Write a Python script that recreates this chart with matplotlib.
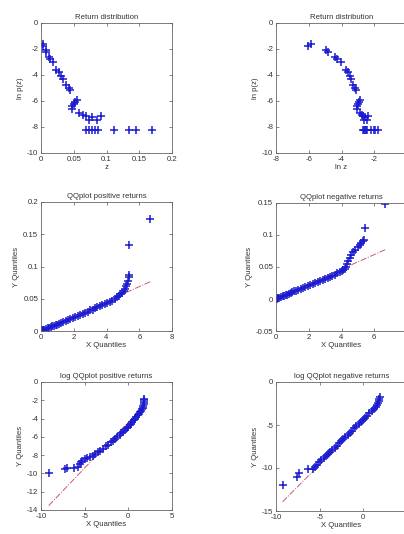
import matplotlib
matplotlib.use("Agg")
import matplotlib.pyplot as plt
import numpy as np
from matplotlib.ticker import FormatStrFormatter

plt.rcParams["font.family"] = ["Liberation Sans", "DejaVu Sans"]
plt.rcParams["axes.unicode_minus"] = False

# --- return distribution: z vs ln p(z) (right panel uses ln z) ---
Z = [0.0024, 0.0029, 0.0073, 0.0080, 0.0123, 0.0143, 0.0180, 0.0235, 0.0280, 0.0310,
     0.0330, 0.0380, 0.0420, 0.0450, 0.0470, 0.0480, 0.0500, 0.0520, 0.0550, 0.0580,
     0.0640, 0.0680, 0.0730, 0.0780, 0.0850, 0.0910, 0.0680, 0.0730, 0.0780, 0.0830,
     0.0870, 0.1110, 0.1350, 0.1450, 0.1700]
LNP = [-1.75, -1.60, -2.10, -2.20, -2.60, -2.75, -3.00, -3.60, -3.75, -4.10,
       -4.30, -4.75, -5.00, -5.15, -6.60, -6.40, -6.25, -6.10, -5.90, -6.90,
       -7.10, -7.15, -7.50, -7.20, -7.50, -7.15, -8.25, -8.25, -8.25, -8.25,
       -8.25, -8.25, -8.25, -8.25, -8.25]

# --- QQ plot positive returns ---
QQ_POS_X = [0.00, 0.05, 0.10, 0.15, 0.20, 0.30, 0.40, 0.50, 0.60, 0.70,
            0.80, 0.90, 1.00, 1.10, 1.20, 1.35, 1.50, 1.65, 1.80, 1.95,
            2.10, 2.25, 2.40, 2.55, 2.70, 2.85, 3.00, 3.15, 3.30, 3.45,
            3.60, 3.75, 3.90, 4.05, 4.20, 4.35, 4.50, 4.62, 4.74, 4.85,
            4.95, 5.05, 5.15, 5.22, 5.28, 5.33, 5.36, 5.38, 5.40, 6.68]
QQ_POS_Y = [0.000, 0.001, 0.001, 0.002, 0.002, 0.003, 0.004, 0.005, 0.006, 0.007,
            0.008, 0.009, 0.010, 0.011, 0.012, 0.014, 0.015, 0.017, 0.019, 0.020,
            0.022, 0.023, 0.025, 0.027, 0.028, 0.030, 0.032, 0.033, 0.035, 0.037,
            0.038, 0.040, 0.042, 0.044, 0.045, 0.047, 0.050, 0.052, 0.054, 0.057,
            0.059, 0.062, 0.065, 0.069, 0.073, 0.078, 0.083, 0.087, 0.134, 0.173]
QQ_POS_FIT = (0.001, 0.0113)   # intercept, slope

# --- QQ plot negative returns ---
QQ_NEG_X = [0.00, 0.05, 0.10, 0.15, 0.20, 0.30, 0.40, 0.50, 0.60, 0.70,
            0.80, 0.90, 1.00, 1.10, 1.20, 1.35, 1.50, 1.65, 1.80, 1.95,
            2.10, 2.25, 2.40, 2.55, 2.70, 2.85, 3.00, 3.15, 3.30, 3.45,
            3.60, 3.75, 3.90, 4.00, 4.10, 4.20, 4.28, 4.35, 4.42, 4.50,
            4.60, 4.72, 4.85, 5.00, 5.12, 5.22, 5.30, 5.36, 5.45, 6.67]
QQ_NEG_Y = [0.000, 0.000, 0.001, 0.001, 0.002, 0.003, 0.004, 0.005, 0.006, 0.007,
            0.008, 0.009, 0.011, 0.012, 0.013, 0.014, 0.016, 0.017, 0.019, 0.021,
            0.022, 0.024, 0.025, 0.027, 0.028, 0.030, 0.032, 0.033, 0.035, 0.036,
            0.038, 0.040, 0.042, 0.043, 0.045, 0.047, 0.050, 0.054, 0.059, 0.064,
            0.069, 0.073, 0.077, 0.082, 0.085, 0.088, 0.090, 0.092, 0.111, 0.148]
QQ_NEG_FIT = (0.001, 0.0114)

# --- log QQ plot positive returns ---
LQQ_POS_X = [-9.12, -7.20, -7.05, -6.20, -5.75, -5.50, -5.40, -5.30, -5.00, -4.70,
             -4.40, -4.10, -3.80, -3.50, -3.20, -2.90, -2.60, -2.30, -2.00, -1.75,
             -1.50, -1.25, -1.00, -0.80, -0.60, -0.40, -0.20, 0.00, 0.15, 0.30,
             0.45, 0.60, 0.75, 0.90, 1.05, 1.20, 1.35, 1.48, 1.60, 1.68,
             1.72, 1.75, 1.78, 1.82, 1.85]
LQQ_POS_Y = [-9.96, -9.55, -9.45, -9.45, -9.30, -9.00, -8.80, -8.60, -8.45, -8.35,
             -8.20, -8.05, -7.85, -7.70, -7.50, -7.30, -7.05, -6.85, -6.60, -6.40,
             -6.20, -6.00, -5.80, -5.60, -5.45, -5.25, -5.05, -4.90, -4.70, -4.55,
             -4.35, -4.20, -4.00, -3.85, -3.65, -3.50, -3.30, -3.15, -3.00, -2.80,
             -2.60, -2.40, -2.20, -2.00, -1.85]
LQQ_POS_FIT = (-4.4, 1.0)

# --- log QQ plot negative returns ---
LQQ_NEG_X = [-9.25, -7.55, -7.35, -6.30, -5.80, -5.50, -5.30, -5.05, -4.80, -4.55,
             -4.30, -4.05, -3.80, -3.55, -3.30, -3.05, -2.80, -2.55, -2.30, -2.05,
             -1.80, -1.55, -1.30, -1.05, -0.80, -0.55, -0.30, -0.05, 0.20, 0.45,
             0.70, 0.95, 1.20, 1.45, 1.60, 1.70, 1.78, 1.85, 1.92]
LQQ_NEG_Y = [-11.96, -11.00, -10.60, -10.15, -10.15, -9.90, -9.60, -9.35, -9.10, -8.85,
             -8.60, -8.40, -8.15, -7.90, -7.65, -7.40, -7.15, -6.90, -6.65, -6.40,
             -6.15, -5.90, -5.65, -5.40, -5.15, -4.90, -4.65, -4.40, -4.15, -3.90,
             -3.65, -3.40, -3.15, -2.90, -2.70, -2.45, -2.20, -1.95, -1.70]
LQQ_NEG_FIT = (-4.5, 1.02)

TXT = "#333333"
FS = 5.6


def style(ax, title, xlabel, ylabel, xlim, ylim, xticks, yticks):
    ax.set_title(title, fontsize=FS, color=TXT, pad=3)
    ax.set_xlabel(xlabel, fontsize=FS, color=TXT, labelpad=1)
    ax.set_ylabel(ylabel, fontsize=FS, color=TXT, labelpad=2)
    ax.set_xlim(xlim)
    ax.set_ylim(ylim)
    ax.set_xticks(xticks)
    ax.set_yticks(yticks)
    ax.xaxis.set_major_formatter(FormatStrFormatter("%g"))
    ax.yaxis.set_major_formatter(FormatStrFormatter("%g"))
    ax.tick_params(direction="in", top=True, right=True, length=2, width=0.5,
                   labelsize=FS, colors="#555555", labelcolor=TXT, pad=2)
    for s in ax.spines.values():
        s.set_color("#666666")
        s.set_linewidth(0.6)


def scatter(ax, x, y):
    ax.plot(x, y, "+", color="#1a1ad0", markersize=5.5, markeredgewidth=1.1)


def fitline(ax, x, fit):
    xs = np.array([min(x), max(x)])
    ax.plot(xs, fit[0] + fit[1] * xs, linestyle="-.", color="#cc5577",
            linewidth=0.7)


fig = plt.figure(figsize=(4.04, 5.34), dpi=100)
W, H = 404, 534


def add_axes(left, top, w=131, h=130):
    return fig.add_axes([left / W, 1 - (top + h) / H, w / W, h / H])


# row 1
ax = add_axes(41, 23)
scatter(ax, Z, LNP)
style(ax, "Return distribution", "z", "ln p(z)", (0, 0.2), (-10, 0),
      [0, 0.05, 0.1, 0.15, 0.2], [-10, -8, -6, -4, -2, 0])

ax = add_axes(276, 23)
scatter(ax, np.log(Z), LNP)
style(ax, "Return distribution", "ln z", "ln p(z)", (-8, 0), (-10, 0),
      [-8, -6, -4, -2, 0], [-10, -8, -6, -4, -2, 0])

# row 2
ax = add_axes(41, 202, h=129)
fitline(ax, QQ_POS_X, QQ_POS_FIT)
scatter(ax, QQ_POS_X, QQ_POS_Y)
style(ax, "QQplot positive returns", "X Quantiles", "Y Quantiles", (0, 8),
      (0, 0.2), [0, 2, 4, 6, 8], [0, 0.05, 0.1, 0.15, 0.2])

ax = add_axes(276, 203, h=128)
fitline(ax, QQ_NEG_X, QQ_NEG_FIT)
scatter(ax, QQ_NEG_X, QQ_NEG_Y)
style(ax, "QQplot negative returns", "X Quantiles", "Y Quantiles", (0, 8),
      (-0.05, 0.15), [0, 2, 4, 6, 8], [-0.05, 0, 0.05, 0.1, 0.15])

# row 3
ax = add_axes(41, 382, h=128)
fitline(ax, LQQ_POS_X, LQQ_POS_FIT)
scatter(ax, LQQ_POS_X, LQQ_POS_Y)
style(ax, "log QQplot positive returns", "X Quantiles", "Y Quantiles",
      (-10, 5), (-14, 0), [-10, -5, 0, 5], [-14, -12, -10, -8, -6, -4, -2, 0])

ax = add_axes(276, 382, h=129)
fitline(ax, LQQ_NEG_X, LQQ_NEG_FIT)
scatter(ax, LQQ_NEG_X, LQQ_NEG_Y)
style(ax, "log QQplot negative returns", "X Quantiles", "Y Quantiles",
      (-10, 5), (-15, 0), [-10, -5, 0, 5], [-15, -10, -5, 0])

fig.savefig("out.png", dpi=100)
